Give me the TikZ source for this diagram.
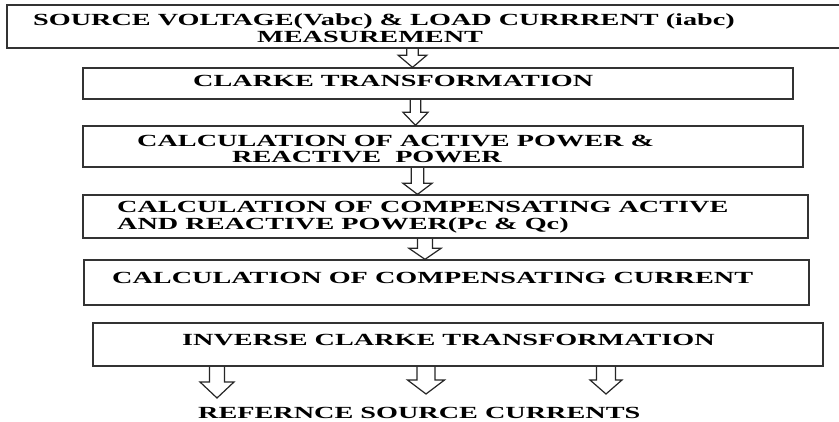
\documentclass[tikz,border=0pt]{standalone}
\usepackage{fontspec}
\usepackage{graphicx}
\setmainfont{Liberation Serif}
\usetikzlibrary{calc}
\newcommand{\sx}[1]{\scalebox{1.66}[1]{#1}}
\newcommand\blockarr[5]{\draw[arr] let \p1=(#1), \p2=(#2) in
  (\x1-#3,\y1) -- (\x1-#3,\y2+#5) -- (\x1-#4,\y2+#5) -- (\x1,\y2) --
  (\x1+#4,\y2+#5) -- (\x1+#3,\y2+#5) -- (\x1+#3,\y1);}
\tikzset{
  box/.style={draw=black!80, line width=1.3pt, inner sep=0pt},
  arr/.style={draw=black!85, line width=1.2pt, line join=miter},
  txt/.style={anchor=base west, inner sep=0pt, font=\fontsize{17}{17}\selectfont\bfseries}
}
\begin{document}
\begin{tikzpicture}[x=1pt,y=-1pt]
\clip (0,0) rectangle (839,422);
\fill[white] (0,0) rectangle (839,422);
% boxes
\node[box, minimum width=838pt, minimum height=43pt] (b1) at (426,26.5) {};
\node[box, minimum width=710pt, minimum height=31pt] (b2) at (438,83.5) {};
\node[box, minimum width=720pt, minimum height=41pt] (b3) at (443,146.5) {};
\node[box, minimum width=725pt, minimum height=43pt] (b4) at (445.5,216.5) {};
\node[box, minimum width=725pt, minimum height=45pt] (b5) at (446.5,282.5) {};
\node[box, minimum width=730pt, minimum height=43pt] (b6) at (458,344.5) {};
% texts
\node[txt] (t1a) at (33,26) {\sx{SOURCE VOLTAGE(Vabc) \& LOAD CURRRENT (iabc)}};
\node[txt] (t1b) at (257,42.7) {\sx{MEASUREMENT}};
\node[txt] (t2) at (193,87) {\sx{CLARKE TRANSFORMATION}};
\node[txt] (t3a) at (137,147) {\sx{CALCULATION OF ACTIVE POWER \&}};
\node[txt] (t3b) at (232,163) {\sx{REACTIVE\ \ POWER}};
\node[txt] (t4a) at (117,213) {\sx{CALCULATION OF COMPENSATING ACTIVE}};
\node[txt] (t4b) at (117,230) {\sx{AND REACTIVE POWER(Pc \& Qc)}};
\node[txt] (t5) at (112,284) {\sx{CALCULATION OF COMPENSATING CURRENT}};
\node[txt] (t6) at (182,345) {\sx{INVERSE CLARKE TRANSFORMATION}};
\node[txt] (t7) at (198,418) {\sx{REFERNCE SOURCE CURRENTS}};
% arrow axes
\coordinate (x1) at (412.5,0);
\coordinate (x2) at (415.5,0);
\coordinate (x3) at (417.5,0);
\coordinate (x4) at (425,0);
\coordinate (x5) at (217,0);
\coordinate (x6) at (426,0);
\coordinate (x7) at (606,0);
\coordinate (e1) at (217,398);
\coordinate (e2) at (426,394);
\coordinate (e3) at (606,394);
% arrows
\blockarr{b1.south -| x1}{b2.north -| x1}{5.8pt}{14.2pt}{12pt}
\blockarr{b2.south -| x2}{b3.north -| x2}{5.2pt}{12.5pt}{13pt}
\blockarr{b3.south -| x3}{b4.north -| x3}{6.3pt}{14.5pt}{11pt}
\blockarr{b4.south -| x4}{b5.north -| x4}{7.5pt}{16pt}{11pt}
\blockarr{b6.south -| x5}{e1}{7.5pt}{17pt}{16pt}
\blockarr{b6.south -| x6}{e2}{9pt}{18.5pt}{14pt}
\blockarr{b6.south -| x7}{e3}{9.5pt}{16pt}{14pt}
\end{tikzpicture}
\end{document}
